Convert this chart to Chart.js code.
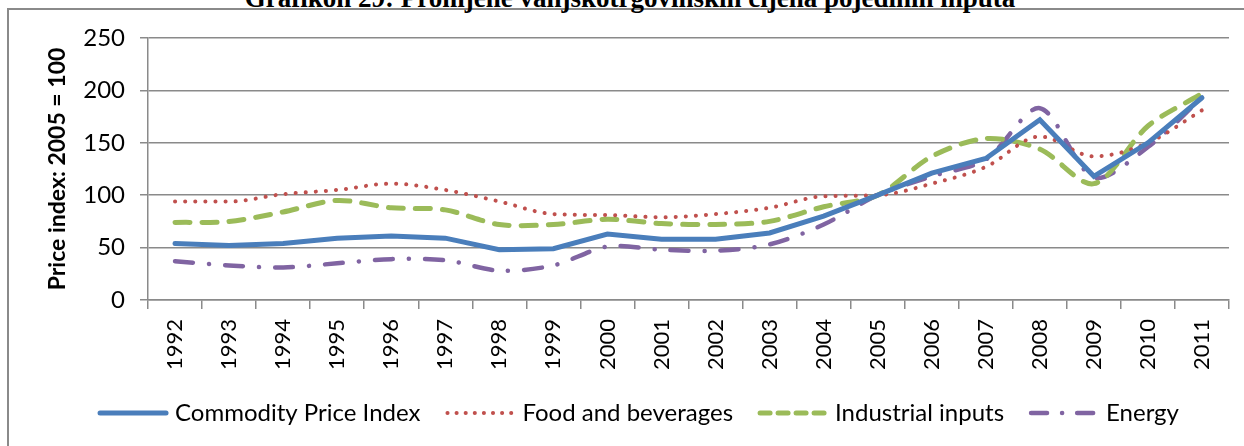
<!DOCTYPE html>
<html>
<head>
<meta charset="utf-8">
<script src="https://cdn.jsdelivr.net/npm/chart.js@4/dist/chart.umd.min.js"></script>
<style>
    html, body { margin: 0; padding: 0; background: #fff; overflow: hidden; }
    body { width: 1244px; height: 446px; position: relative; }
    .title {
        position: absolute; left: 0; width: 1260px; top: -17px; line-height: 27px;
        text-align: center; font: bold 27px 'Liberation Serif', serif; color: #000;
        white-space: nowrap;
    }
    .frame {
        position: absolute; left: 7px; top: 8px; width: 1300px; height: 500px;
        border-left: 2px solid #8a8a8a; border-top: 2px solid #8a8a8a;
        background: #fff;
    }
    .wrap { position: absolute; left: 0; top: 0; width: 1244px; height: 446px; }
</style>
</head>
<body>
<div class="frame"></div>
<div class="title">Grafikon 29: Promjene vanjskotrgovinskih cijena pojedinih inputa</div>
<div class="wrap"><canvas id="priceChart"></canvas></div>
<script>
const years = ['1992', '1993', '1994', '1995', '1996', '1997', '1998', '1999', '2000', '2001',
               '2002', '2003', '2004', '2005', '2006', '2007', '2008', '2009', '2010', '2011'];

const commodityIndex = [54, 52, 54, 59, 61, 59, 48, 49, 63, 58, 58, 64, 80, 100, 121, 135, 172, 118, 150, 193];
const foodBeverages  = [94, 94, 101, 105, 111, 105, 94, 82, 81, 79, 82, 88, 99, 100, 111, 127, 156, 137, 150, 181];
const industrial     = [74, 75, 84, 95, 88, 86, 72, 72, 77, 73, 72, 75, 89, 100, 137, 154, 144, 111, 166, 197];
const energy         = [37, 33, 31, 35, 39, 38, 28, 33, 51, 48, 47, 53, 72, 100, 118, 134, 183, 117, 146, 193];

const yTicks = [0, 50, 100, 150, 200, 250];

const fontFamily = "Lato, 'Open Sans', sans-serif";

// legend drawn by hand: the stock legend ignores dashes when it draws line symbols
const customLegend = {
    id: 'customLegend',
    afterDraw(chart) {
        const c = chart.ctx;
        const lineLen = 70, gapText = 7, gapItem = 25;
        const legendY = 413;
        c.save();
        c.font = '24px ' + fontFamily;
        let total = 0;
        chart.data.datasets.forEach((ds, i) => {
            total += lineLen + gapText + c.measureText(ds.label).width + (i > 0 ? gapItem : 0);
        });
        let x = (chart.chartArea.left + chart.chartArea.right) / 2 - total / 2 - 50;
        chart.data.datasets.forEach((ds) => {
            c.strokeStyle = ds.borderColor;
            c.lineWidth = ds.borderWidth;
            c.lineCap = ds.borderCapStyle || 'butt';
            c.setLineDash(ds.legendDash || ds.borderDash || []);
            c.beginPath();
            c.moveTo(x + 2, legendY);
            c.lineTo(x + lineLen - 2, legendY);
            c.stroke();
            c.setLineDash([]);
            c.fillStyle = '#000';
            c.textBaseline = 'middle';
            c.fillText(ds.label, x + lineLen + gapText, legendY);
            x += lineLen + gapText + c.measureText(ds.label).width + gapItem;
        });
        c.restore();
    }
};

document.addEventListener('DOMContentLoaded', function() {
    const ctx = document.getElementById('priceChart');

    new Chart(ctx.getContext('2d'), {
        type: 'line',
        data: {
            labels: years,
            datasets: [
                {
                    label: 'Commodity Price Index',
                    data: commodityIndex,
                    borderColor: '#4a7ebb',
                    borderWidth: 5,
                    borderCapStyle: 'round',
                    tension: 0,
                    pointRadius: 0
                },
                {
                    label: 'Food and beverages',
                    data: foodBeverages,
                    borderColor: '#c0504d',
                    borderWidth: 4,
                    borderDash: [0.1, 10],
                    legendDash: [0.1, 9],
                    borderCapStyle: 'round',
                    cubicInterpolationMode: 'monotone',
                    pointRadius: 0
                },
                {
                    label: 'Industrial inputs',
                    data: industrial,
                    borderColor: '#9bbb59',
                    borderWidth: 5,
                    borderDash: [15, 12],
                    legendDash: [10, 8],
                    borderCapStyle: 'round',
                    tension: 0.3,
                    pointRadius: 0
                },
                {
                    label: 'Energy',
                    data: energy,
                    borderColor: '#8064a2',
                    borderWidth: 4.5,
                    borderDash: [18, 16, 0.1, 16],
                    legendDash: [16, 15, 0.1, 15],
                    borderCapStyle: 'round',
                    tension: 0.3,
                    pointRadius: 0
                }
            ]
        },
        options: {
            responsive: true,
            maintainAspectRatio: false,
            animation: false,
            layout: { padding: { left: 40, right: 15, top: 38, bottom: 0 } },
            plugins: {
                legend: { display: false },
                tooltip: { enabled: false }
            },
            scales: {
                y: {
                    min: 0,
                    max: 250,
                    afterBuildTicks: function(scale) {
                        scale.ticks = yTicks.map(v => ({ value: v }));
                    },
                    afterFit: function(scale) { scale.width = 108; },
                    border: { display: true, color: '#8a8a8a', width: 1.5 },
                    grid: { color: '#8a8a8a', lineWidth: 1.5, tickLength: 8 },
                    ticks: { color: '#000', padding: 15, font: { family: fontFamily, size: 24 } },
                    title: {
                        display: true,
                        text: 'Price index: 2005 = 100',
                        color: '#000',
                        font: { family: fontFamily, size: 23, weight: 'bold' }
                    }
                },
                x: {
                    offset: true,
                    afterFit: function(scale) { scale.height = 146; },
                    border: { display: true, color: '#8a8a8a', width: 1.5 },
                    grid: { offset: true, drawOnChartArea: false, color: '#8a8a8a', lineWidth: 1.5, tickLength: 9 },
                    ticks: {
                        color: '#000',
                        minRotation: 90,
                        maxRotation: 90,
                        autoSkip: false,
                        padding: 10,
                        font: { family: fontFamily, size: 22 }
                    }
                }
            }
        },
        plugins: [customLegend]
    });
});
</script>
</body>
</html>
